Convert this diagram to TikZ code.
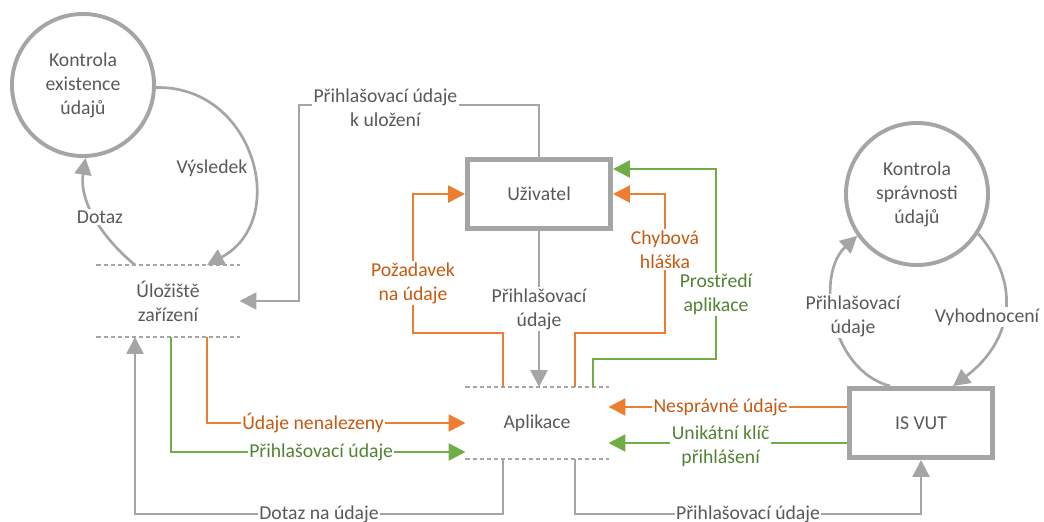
\documentclass[tikz,border=0pt]{standalone}
\usepackage{fontspec}
\setmainfont{Carlito}
\usepackage{tikz}
\usetikzlibrary{positioning,arrows.meta}

\definecolor{boxgray}{HTML}{A5A5A5}
\definecolor{txtgray}{HTML}{595959}
\definecolor{orange1}{HTML}{ED7D31}
\definecolor{orangetxt}{HTML}{C55A11}
\definecolor{green1}{HTML}{70AD47}
\definecolor{greentxt}{HTML}{548235}

\begin{document}
\begin{tikzpicture}[x=0.025cm,y=-0.025cm,
	every node/.style={font=\fontsize{14}{17}\selectfont,text=txtgray,align=center},
	proc/.style={circle,draw=boxgray,line width=2.8pt,minimum size=3.55cm,inner sep=0pt},
	ent/.style={rectangle,draw=boxgray,line width=3.5pt,minimum width=3.575cm,minimum height=1.725cm},
	store/.style={minimum width=3.575cm,minimum height=1.8cm,inner sep=0pt,outer sep=0pt},
	dline/.style={draw=boxgray,line width=1.4pt,dash pattern=on 3pt off 2pt},
	flow/.style={line width=1.9pt,-{Triangle[length=12pt,width=12pt]}},
	gflow/.style={flow,draw=boxgray},
	oflow/.style={flow,draw=orange1},
	grflow/.style={flow,draw=green1},
	lbl/.style={fill=white,inner sep=1pt},
	olbl/.style={lbl,text=orangetxt},
	grlbl/.style={lbl,text=greentxt}]

			\useasboundingbox (0,0) rectangle (1044,521);

			%processes
			\node [proc] (exist) at (83,85) {Kontrola\\existence\\údajů};
			\node [proc] (check) at (917,194) {Kontrola\\správnosti\\údajů};

			%entities
			\node [ent] (user) at (539,194) {Uživatel};
			\node [ent] (isvut) at (921,423) {IS VUT};

			%stores
			\node [store] (dev) at (168,301) {Úložiště\\zařízení};
			\node [store] (app) at (537,423) {Aplikace};
			\draw [dline] (dev.north west) -- (dev.north east);
			\draw [dline] (dev.south west) -- (dev.south east);
			\draw [dline] (app.north west) -- (app.north east);
			\draw [dline] (app.south west) -- (app.south east);

			%edges round the processes
			\draw [gflow] (exist.-2) .. controls (254,85) and (291,220) .. (207,0 |- dev.north) node [lbl] at (212,168) {Výsledek};
			\draw [gflow] (135,0 |- dev.north) .. controls (100,236) and (79,200) .. (exist.-88) node [lbl] at (100,217) {Dotaz};
			\draw [gflow] (890,0 |- isvut.north) .. controls (830,370) and (815,275) .. (check.-145) node [lbl] at (853,316) {Přihlašovací\\údaje};
			\draw [gflow] (check.-33) .. controls (1025,288) and (1009,344) .. (953,0 |- isvut.north) node [lbl] at (987,317) {Vyhodnocení};

			%edges
			\draw [gflow] (user.north) |- node [lbl, pos=.82, yshift=-2pt] {Přihlašovací údaje\\k uložení} (299,105) |- (dev.east);
			\draw [gflow] (user.south) -- node [lbl] {Přihlašovací\\údaje} (user.south |- app.north);
			\draw [oflow] (503,0 |- app.north) |- (413,333) |- node [olbl, pos=.18] {Požadavek\\na údaje} (user.west);
			\draw [oflow] (575,0 |- app.north) |- (665,333) |- node [olbl, pos=.3] {Chybová\\hláška} (user.east);
			\draw [grflow] (593,0 |- app.north) |- (716,359) |- node [grlbl, pos=.17] {Prostředí\\aplikace} (user.east |- 0,169);
			\draw [oflow] (isvut.west |- 0,407) -- node [olbl, pos=.53] {Nesprávné údaje} (app.east |- 0,407);
			\draw [grflow] (isvut.west |- 0,443) -- node [grlbl, pos=.53, yshift=-2pt] {Unikátní klíč\\přihlášení} (app.east |- 0,443);
			\draw [oflow] (207,0 |- dev.south) |- node [olbl, pos=.705] {Údaje nenalezeny} (app.west);
			\draw [grflow] (171,0 |- dev.south) |- node [grlbl, pos=.755] {Přihlašovací údaje} (app.west |- 0,452);
			\draw [gflow] (503,0 |- app.south) |- node [lbl, pos=.75] {Dotaz na údaje} (135,514) -- (135,0 |- dev.south);
			\draw [gflow] (575,0 |- app.south) |- node [lbl, pos=.75] {Přihlašovací údaje} (isvut.south |- 0,514) -- (isvut.south);
		\end{tikzpicture}
\end{document}
